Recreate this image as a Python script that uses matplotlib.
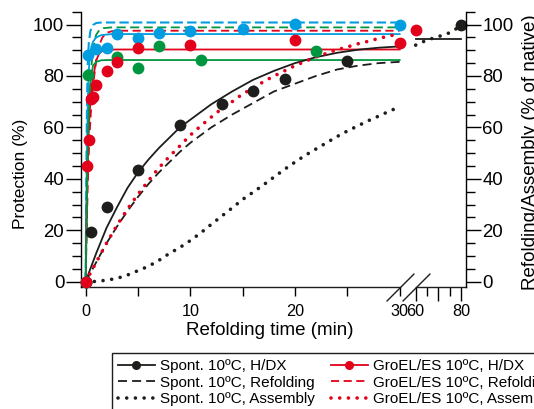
import numpy as np
import matplotlib
matplotlib.use('Agg')
import matplotlib.pyplot as plt
from matplotlib.lines import Line2D

plt.rcParams['font.family'] = ['Liberation Sans', 'DejaVu Sans']

BLACK = '#1d1d1b'
RED = '#e2001a'
GREEN = '#009640'
BLUE = '#009ee0'

# H/DX protection, measured points (time in min, %)
spont_t = [0, 0.5, 2, 5, 9, 13, 16, 19, 25, 80]
spont_y = [0, 19.5, 29, 43.5, 61, 69, 74, 79, 86, 100]
gro_t = [0, 0.17, 0.33, 0.5, 0.67, 1, 2, 3, 5, 10, 20, 30, 60]
gro_y = [0, 45, 55, 71, 72, 76.5, 82, 85.3, 91, 92, 94, 93, 98]
green_t = [0, 0.25, 3, 5, 7, 11, 22]
green_y = [0, 80.4, 87.5, 83, 91.6, 86.2, 89.7]
blue_t = [0, 0.2, 1, 2, 3, 5, 7, 10, 15, 20, 30]
blue_y = [0, 88, 90.5, 90.7, 96.3, 94.8, 96.8, 97.6, 98.2, 100.1, 99.8]

# spontaneous fits
spont_fit_t = [0, 0.4, 1, 2, 3, 4, 5, 6, 7, 8, 9, 10, 12, 14, 16, 18, 20, 22, 24, 26, 28, 30]
spont_fit_y = [0, 4.5, 11, 21, 29, 36.5, 42.5, 47.5, 52, 56, 60, 63, 69, 74, 78.5, 82, 85, 87.3, 89, 90.2, 91, 91.5]
spont_ref_t = [0, 1, 2, 3, 4, 5, 6, 7, 8, 9, 10, 12, 14, 16, 18, 20, 22, 24, 26, 28, 30]
spont_ref_y = [0, 7.5, 15, 21.5, 27.5, 33, 38, 42.5, 46.5, 50.5, 54, 60, 65, 69.5, 74, 77, 80, 82.5, 84, 85, 85.5]
spont_asm_t = [0, 1, 2, 3, 4, 5, 6, 7, 8, 9, 10, 11, 12, 13, 14, 15, 16, 17, 18, 19, 20,
               21, 22, 23, 24, 25, 26, 27, 28, 29, 30]
spont_asm_y = [0, 0.1, 0.6, 1.3, 2.6, 4.3, 6, 8.3, 11, 13.3, 16, 19, 22.3, 25.5, 28.7, 32, 34.8,
               37.7, 40.7, 43.7, 46.5, 49.2, 51.6, 54, 56.4, 58.6, 60.6, 62.6, 64.4, 66.3, 68]
spont_late_t = [60, 80]
spont_late_y = [94.5, 94.5]
spont_late_asm_t = [60, 65, 70, 75, 80]
spont_late_asm_y = [92, 94, 95.3, 96.8, 99.5]

# GroEL/ES fits
gro_fit_t = [0, 0.1, 0.2, 0.3, 0.4, 0.5, 0.7, 1.0, 1.3, 1.6, 2, 3, 30]
gro_fit_y = [0, 28, 48, 60, 67, 72, 79, 86, 88.8, 89.8, 90.2, 90.3, 90.3]
gro_ref_t = [0, 0.1, 0.2, 0.3, 0.4, 0.5, 0.7, 1.0, 1.3, 1.6, 2, 2.5, 3, 30]
gro_ref_y = [0, 20, 38, 50, 59, 66, 76, 86, 92, 95, 96.8, 97.4, 97.6, 97.6]
gro_asm_t = [0, 1, 2, 3, 4, 5, 6, 7, 8, 9, 10, 11, 12, 13, 14, 15, 16, 17, 18, 19, 20,
             21, 22, 23, 24, 25, 26, 27, 28, 29, 30]
gro_asm_y = [0, 7.5, 15, 22, 28.3, 34, 39.3, 44.3, 48.7, 52.8, 57, 60.6, 64, 67.3, 70, 73, 75.3,
             77.8, 80, 82, 84, 85.7, 87.4, 88.8, 90.2, 91.3, 92.5, 93.5, 94.6, 95.6, 96.3]

# green / blue fits
green_fit_t = [0, 0.1, 0.2, 0.3, 0.4, 0.5, 0.7, 1.0, 1.5, 2, 30]
green_fit_y = [0, 30, 52, 66, 74, 79, 84, 85.5, 86.1, 86.2, 86.2]
green_ref_t = [0, 0.1, 0.2, 0.3, 0.4, 0.5, 0.7, 1.0, 1.3, 1.7, 2.5, 30]
green_ref_y = [0, 29.5, 50, 64, 74, 81.5, 90.5, 96, 97.8, 98.6, 98.9, 98.9]
blue_fit_t = [0, 0.05, 0.1, 0.2, 0.3, 0.4, 0.55, 0.7, 1.0, 1.5, 2.5, 30]
blue_fit_y = [0, 25, 45, 70, 82, 88, 91.5, 93.3, 95, 95.9, 96.3, 96.3]
blue_ref_t = [0, 0.05, 0.1, 0.15, 0.2, 0.3, 0.45, 0.7, 1.0, 1.5, 30]
blue_ref_y = [0, 35, 60, 75, 85, 93, 97.5, 99.8, 100.6, 100.8, 100.8]

# broken time axis: 0-30 normal, 60-80 squeezed
GAP = 1.53
SQUEEZE = 0.2164


def fwd(t):
    t = np.asarray(t, dtype=float)
    return np.where(t <= 30, t,
                    np.where(t < 60, 30 + (t - 30) * GAP / 30, 30 + GAP + (t - 60) * SQUEEZE))


def inv(x):
    x = np.asarray(x, dtype=float)
    return np.where(x <= 30, x,
                    np.where(x < 30 + GAP, 30 + (x - 30) * 30 / GAP, 60 + (x - 30 - GAP) / SQUEEZE))


fig = plt.figure(figsize=(5.34, 4.09), dpi=100)
ax = fig.add_axes([0.1517, 0.2983, 0.7204, 0.6731])
ax.set_xscale('function', functions=(fwd, inv))
ax.set_xlim(-0.446, 82.09)
ax.set_ylim(-2.06, 105)

dot = (0, (0.01, 2.4))
ax.plot(blue_ref_t, blue_ref_y, color=BLUE, lw=1.5, dashes=(4.5, 2))
ax.plot(green_ref_t, green_ref_y, color=GREEN, lw=1.3, dashes=(5, 2.5))
ax.plot(gro_ref_t, gro_ref_y, color=RED, lw=1.3, dashes=(4.5, 2.5))
ax.plot(blue_fit_t, blue_fit_y, color=BLUE, lw=1.3)
ax.plot(gro_fit_t, gro_fit_y, color=RED, lw=1.3)
ax.plot(green_fit_t, green_fit_y, color=GREEN, lw=1.3)
ax.plot(spont_fit_t, spont_fit_y, color=BLACK, lw=1.3)
ax.plot(spont_late_t, spont_late_y, color=BLACK, lw=1.3)
ax.plot(spont_ref_t, spont_ref_y, color=BLACK, lw=1.3, dashes=(5, 2.8))
ax.plot(spont_asm_t, spont_asm_y, color=BLACK, lw=2.6, ls=dot, dash_capstyle='round')
ax.plot(spont_late_asm_t, spont_late_asm_y, color=BLACK, lw=2.6, ls=dot, dash_capstyle='round')
ax.plot(gro_asm_t, gro_asm_y, color=RED, lw=2.6, ls=dot, dash_capstyle='round')

ms = 8.5
ax.plot(spont_t, spont_y, 'o', color=BLACK, ms=ms, mew=0, clip_on=False, zorder=3)
ax.plot(blue_t, blue_y, 'o', color=BLUE, ms=ms, mew=0, clip_on=False, zorder=4)
ax.plot(green_t, green_y, 'o', color=GREEN, ms=ms, mew=0, clip_on=False, zorder=5)
ax.plot(gro_t, gro_y, 'o', color=RED, ms=ms, mew=0, clip_on=False, zorder=6)

# axes styling
for s in ['top', 'right', 'bottom']:
    ax.spines[s].set_visible(False)
ax.spines['left'].set_linewidth(1.0)
xt = ax.get_xaxis_transform()
ax.plot([-0.446, 30], [0, 0], color=BLACK, lw=1.0, transform=xt, clip_on=False)
ax.plot([60, 82.09], [0, 0], color=BLACK, lw=1.0, transform=xt, clip_on=False)
ax.plot([30, 60], [0, 0], ls='none', marker=[(-1, -1), (1, 1)], ms=20, mew=1.0,
        color=BLACK, transform=xt, clip_on=False)

ax.set_xticks([60, 70, 80])
ax.set_xticklabels(['60', '', '80'])
ax.set_xticks([0, 5, 10, 15, 20, 25, 30, 65, 75], minor=True)
ax.set_xticklabels(['0', '', '10', '', '20', '', '30', '', ''], minor=True)
ax.tick_params(axis='x', which='major', length=10, width=1, pad=1.9, labelsize=11.7)
ax.tick_params(axis='x', which='minor', length=6.5, width=1, pad=5.5, labelsize=11.7)

yt = [0, 20, 40, 60, 80, 100]
yminor = np.arange(0, 106, 5)
ax.set_yticks(yt)
ax.set_yticks(yminor, minor=True)
ax.tick_params(axis='y', which='major', length=10.5, width=1, pad=1.5, labelsize=13.4)
ax.tick_params(axis='y', which='minor', length=6.7, width=1)
ax.set_ylabel('Protection (%)', fontsize=12.5)
ax.yaxis.set_label_coords(-0.138, 0.41)
ax.set_xlabel('Refolding time (min)', fontsize=13.5)
ax.xaxis.set_label_coords(0.49, -0.127)

ax2 = ax.twinx()
ax2.set_ylim(-2.06, 105)
for s in ['top', 'left', 'bottom']:
    ax2.spines[s].set_visible(False)
ax2.spines['right'].set_linewidth(1.0)
ax2.set_yticks(yt)
ax2.set_yticks(yminor, minor=True)
ax2.tick_params(axis='y', which='major', length=10.5, width=1, pad=1.5, labelsize=13.4)
ax2.tick_params(axis='y', which='minor', length=6.7, width=1)
ax2.set_ylabel('Refolding/Assembly (% of native)', fontsize=13.5)
ax2.yaxis.set_label_coords(1.146, 0.49)

handles = [
    Line2D([], [], color=BLACK, lw=1.3, marker='o', ms=6.5, mew=0),
    Line2D([], [], color=BLACK, lw=1.3, dashes=(5, 2.8)),
    Line2D([], [], color=BLACK, lw=2.6, ls=dot, dash_capstyle='round'),
    Line2D([], [], color=RED, lw=1.3, marker='o', ms=6.5, mew=0),
    Line2D([], [], color=RED, lw=1.3, dashes=(4.5, 2.5)),
    Line2D([], [], color=RED, lw=2.6, ls=dot, dash_capstyle='round'),
]
labels = ['Spont. 10ºC, H/DX', 'Spont. 10ºC, Refolding', 'Spont. 10ºC, Assembly',
          'GroEL/ES 10ºC, H/DX', 'GroEL/ES 10ºC, Refolding', 'GroEL/ES 10ºC, Assembly']
leg = fig.legend(handles, labels, loc='upper left', bbox_to_anchor=(112 / 534, 1 - 353 / 409),
                 ncol=2, fontsize=11, handlelength=2.4, handletextpad=0.35,
                 columnspacing=1.05, borderpad=0.4, labelspacing=0.17, borderaxespad=0,
                 fancybox=False, edgecolor=BLACK, framealpha=1)
leg.get_frame().set_linewidth(1.0)

fig.savefig('out.png', dpi=100)
